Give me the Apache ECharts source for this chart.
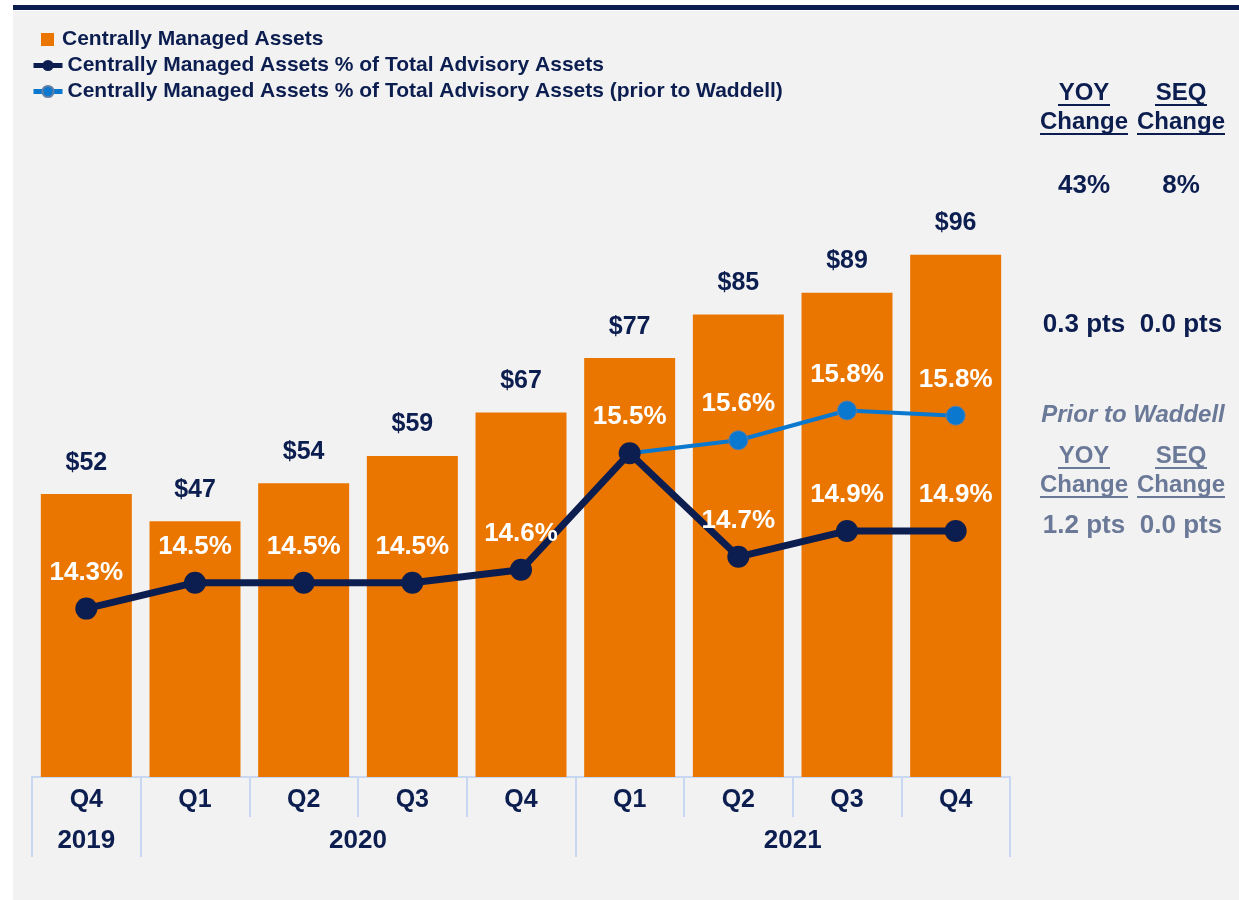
<!DOCTYPE html>
<html>
<head>
<meta charset="utf-8">
<script src="https://cdn.jsdelivr.net/npm/echarts@6/dist/echarts.min.js"></script>
<style>
  html, body { margin: 0; padding: 0; background: #fff; }
  #chart { width: 1239px; height: 900px; }
</style>
</head>
<body>
<div id="chart"></div>
<script>
// data
const quarters = ['Q4', 'Q1', 'Q2', 'Q3', 'Q4', 'Q1', 'Q2', 'Q3', 'Q4']
const years = ['2019', '2020', '2021']
const quartersPerYear = [1, 4, 4]
const assets = [52, 47, 54, 59, 67, 77, 85, 89, 96]
const pctOfTotal = [14.3, 14.5, 14.5, 14.5, 14.6, 15.5, 14.7, 14.9, 14.9]
const pctPriorWaddell = [null, null, null, null, null, 15.5, 15.6, 15.83, 15.79]

// right hand side summary
const changeCols = ['YOY', 'SEQ']
const assetsChange = ['43%', '8%']
const pctChange = ['0.3 pts', '0.0 pts']
const priorChange = ['1.2 pts', '0.0 pts']

const names = [
  'Centrally Managed Assets',
  'Centrally Managed Assets % of Total Advisory Assets',
  'Centrally Managed Assets % of Total Advisory Assets (prior to Waddell)'
]

const NAVY = '#0C1D4F'
const ORANGE = '#EA7600'
const BLUE = '#0A78CF'
const GREY = '#6B7998'
const EDGE = '#C9D8F2'
const FONT = '"Liberation Sans", Arial, sans-serif'

// year row: tick at every year boundary, label in the middle of its span
const yearTicks = [0]
const yearMids = []
quartersPerYear.forEach((n, i) => {
  const start = yearTicks[i]
  yearTicks.push(start + n)
  yearMids.push(start + n / 2)
})

// text blocks on the right
const colX = [1084, 1181]
const graphics = [
  { type: 'rect', z: -10, shape: { x: 13, y: 11, width: 1226, height: 889 }, style: { fill: '#F2F2F2' } },
  { type: 'rect', z: -10, shape: { x: 13, y: 5, width: 1226, height: 5 }, style: { fill: NAVY } }
]
function txt (text, x, y, color, size, italic) {
  graphics.push({
    type: 'text',
    style: {
      text: text, x: x, y: y, fill: color,
      align: 'center', verticalAlign: 'middle',
      font: (italic ? 'italic ' : '') + '700 ' + size + 'px ' + FONT
    }
  })
}
function underlined (text, x, y, color, halfWidth) {
  txt(text, x, y, color, 24)
  graphics.push({
    type: 'line',
    shape: { x1: x - halfWidth, y1: y + 12, x2: x + halfWidth, y2: y + 12 },
    style: { stroke: color, lineWidth: 2 }
  })
}
function headers (y, color) {
  changeCols.forEach((c, i) => {
    underlined(c, colX[i], y, color, 26)
    underlined('Change', colX[i], y + 29, color, 44)
  })
}
headers(93, NAVY)
assetsChange.forEach((t, i) => txt(t, colX[i], 186, NAVY, 26))
pctChange.forEach((t, i) => txt(t, colX[i], 325, NAVY, 26))
txt('Prior to Waddell', 1133, 415, GREY, 24, true)
headers(456, GREY)
priorChange.forEach((t, i) => txt(t, colX[i], 526, GREY, 26))

const legendText = { color: NAVY, fontSize: 21, fontWeight: 'bold', fontFamily: FONT }

const chart = echarts.init(document.getElementById('chart'))
const option = {
  animation: false,
  textStyle: { fontFamily: FONT },
  graphic: graphics,
  legend: [
    {
      data: [{ name: names[0], icon: 'rect' }],
      left: 36,
      top: 24,
      itemWidth: 13,
      itemHeight: 13,
      textStyle: Object.assign({ padding: [0, 0, 0, 3] }, legendText)
    },
    {
      data: [names[1], names[2]],
      orient: 'vertical',
      left: 26,
      top: 50,
      itemGap: 5,
      itemWidth: 29,
      itemHeight: 14,
      lineStyle: { width: 5 },
      textStyle: legendText
    }
  ],
  grid: { left: 32, right: 229, top: 233, bottom: 123 },
  xAxis: [
    {
      type: 'category',
      data: quarters,
      axisLine: { show: true, lineStyle: { color: EDGE, width: 2 } },
      axisTick: { show: true, alignWithLabel: false, length: 40, lineStyle: { color: EDGE, width: 2 } },
      axisLabel: { color: NAVY, fontSize: 25, fontWeight: 'bold', margin: 11 }
    },
    {
      type: 'value',
      position: 'bottom',
      offset: 40,
      min: 0,
      max: quarters.length,
      axisLine: { show: false },
      splitLine: { show: false },
      axisTick: { show: true, customValues: yearTicks, length: 40, lineStyle: { color: EDGE, width: 2 } },
      axisLabel: {
        customValues: yearMids,
        color: NAVY, fontSize: 26, fontWeight: 'bold', margin: 11,
        formatter: v => years[yearMids.indexOf(v)]
      }
    }
  ],
  yAxis: [
    { type: 'value', min: 0, max: 100, show: false },
    { type: 'value', min: 13, max: 17.2, show: false }
  ],
  series: [
    {
      name: names[0],
      type: 'bar',
      data: assets,
      barWidth: 91,
      itemStyle: { color: ORANGE },
      label: {
        show: true,
        position: 'top',
        distance: 19,
        color: NAVY,
        fontSize: 25,
        fontWeight: 'bold',
        formatter: p => '$' + p.value
      }
    },
    {
      name: names[2],
      type: 'line',
      yAxisIndex: 1,
      z: 3,
      data: pctPriorWaddell,
      symbol: 'circle',
      symbolSize: 19,
      lineStyle: { color: BLUE, width: 4 },
      itemStyle: { color: BLUE, borderColor: '#5D7FA6', borderWidth: 1 },
      label: {
        show: true,
        position: 'top',
        distance: 13,
        color: '#fff',
        fontSize: 26,
        fontWeight: 'bold',
        formatter: p => p.value === pctOfTotal[p.dataIndex] ? '' : p.value.toFixed(1) + '%'
      }
    },
    {
      name: names[1],
      type: 'line',
      yAxisIndex: 1,
      z: 4,
      data: pctOfTotal,
      symbol: 'circle',
      symbolSize: 22,
      lineStyle: { color: NAVY, width: 7 },
      itemStyle: { color: NAVY },
      label: {
        show: true,
        position: 'top',
        distance: 12,
        color: '#fff',
        fontSize: 26,
        fontWeight: 'bold',
        formatter: p => p.value.toFixed(1) + '%'
      }
    }
  ]
}
chart.setOption(option)
</script>
</body>
</html>
